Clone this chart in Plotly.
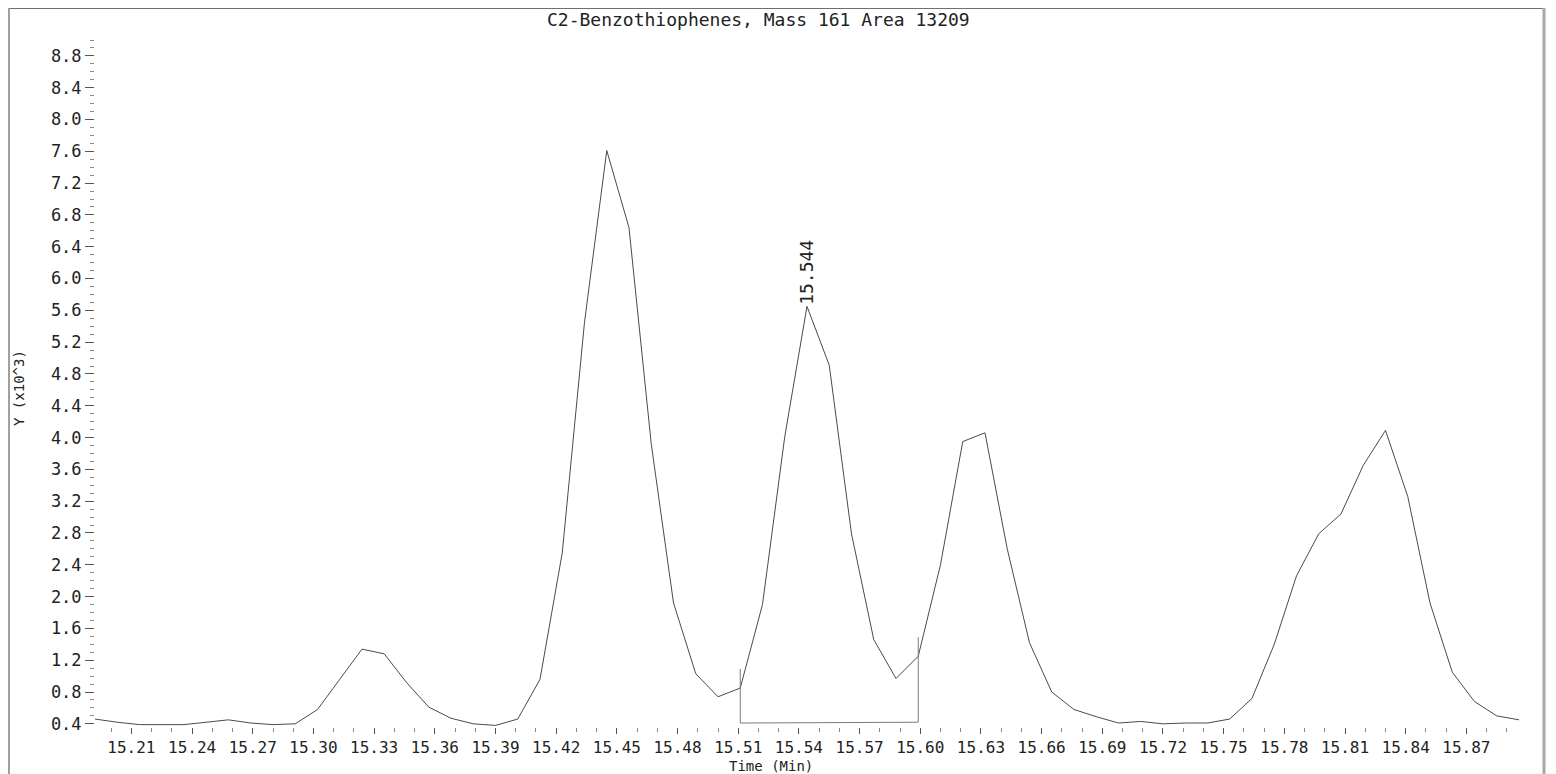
import plotly.graph_objects as go

# ---- data ----
time_min = [15.192, 15.203, 15.214, 15.225, 15.236, 15.247, 15.258, 15.269, 15.280, 15.291,
            15.302, 15.313, 15.324, 15.335, 15.346, 15.357, 15.368, 15.379, 15.390, 15.401,
            15.412, 15.423, 15.434, 15.445, 15.456, 15.467, 15.478, 15.489, 15.500, 15.511,
            15.522, 15.533, 15.544, 15.555, 15.566, 15.577, 15.588, 15.599, 15.610, 15.621,
            15.632, 15.643, 15.654, 15.665, 15.676, 15.687, 15.698, 15.709, 15.720, 15.731,
            15.742, 15.753, 15.764, 15.775, 15.786, 15.797, 15.808, 15.819, 15.830, 15.841,
            15.852, 15.863, 15.874, 15.885, 15.896]
intensity_k = [0.46, 0.42, 0.39, 0.39, 0.39, 0.42, 0.45, 0.41, 0.39, 0.40,
               0.58, 0.96, 1.34, 1.28, 0.92, 0.61, 0.47, 0.40, 0.38, 0.46,
               0.96, 2.55, 5.45, 7.61, 6.64, 3.92, 1.92, 1.03, 0.74, 0.85,
               1.90, 4.01, 5.65, 4.91, 2.79, 1.46, 0.97, 1.25, 2.40, 3.95,
               4.06, 2.60, 1.42, 0.80, 0.58, 0.49, 0.41, 0.43, 0.40, 0.41,
               0.41, 0.46, 0.72, 1.40, 2.26, 2.79, 3.04, 3.65, 4.09, 3.26,
               1.92, 1.05, 0.68, 0.50, 0.45]

# integration bracket (start/end time, baseline level, marker heights)
bracket_times = [15.511, 15.599]
bracket_base = [0.41, 0.42]
bracket_tops = [1.09, 1.49]

peak_label = "15.544"
peak_time = 15.544
peak_value = 5.65

title_text = "C2-Benzothiophenes, Mass 161 Area 13209"
x_title = "Time (Min)"
y_title = "Y (x10^3)"

# ---- layout geometry (page pixels; page body has an 8px margin) ----
OFF = 8
W, H = 1556 - OFF, 774 - OFF
L, R, T, B = 95 - OFF, 1520 - OFF, 40 - OFF, 727 - OFF
X_RANGE = [15.192, 15.8965]
Y_RANGE = [0.36, 9.0]

def px(xp):
    return (xp - OFF - L) / (R - L)

def py(yp):
    return (B - (yp - OFF)) / (B - T)

FONT = "DejaVu Sans Mono"
LINE_C = "#4a4a4a"

fig = go.Figure()

fig.add_trace(go.Scatter(x=time_min, y=intensity_k, mode="lines",
                         line=dict(color=LINE_C, width=1), hoverinfo="skip",
                         showlegend=False))

# bracket: left riser, baseline, right riser
bx = [bracket_times[0], bracket_times[0], bracket_times[1], bracket_times[1]]
by = [bracket_tops[0], bracket_base[0], bracket_base[1], bracket_tops[1]]
fig.add_trace(go.Scatter(x=bx, y=by, mode="lines",
                         line=dict(color="#7a7a7a", width=1), hoverinfo="skip",
                         showlegend=False))

fig.add_annotation(x=peak_time, y=peak_value, text=peak_label, textangle=-90,
                   showarrow=False, xanchor="center", yanchor="bottom", yshift=0,
                   font=dict(family=FONT, size=18, color="#222222"))

fig.add_annotation(xref="paper", yref="paper", x=px(758), y=py(19), text=title_text,
                   showarrow=False, xanchor="center", yanchor="middle",
                   font=dict(family=FONT, size=18, color="#222222"))

fig.add_annotation(xref="paper", yref="paper", x=px(771), y=py(766), text=x_title,
                   showarrow=False, xanchor="center", yanchor="middle",
                   font=dict(family=FONT, size=14, color="#222222"))

fig.add_annotation(xref="paper", yref="paper", x=px(19), y=py(388), text=y_title,
                   textangle=-90, showarrow=False, xanchor="center", yanchor="middle",
                   font=dict(family=FONT, size=14, color="#222222"))

fig.add_annotation(xref="paper", yref="paper", x=px(1555), y=py(372), text=y_title,
                   textangle=-90, showarrow=False, xanchor="center", yanchor="middle",
                   font=dict(family=FONT, size=14, color="#222222"))

# frame
fig.add_shape(type="line", xref="paper", yref="paper", x0=px(9), x1=px(1543),
              y0=py(8.5), y1=py(8.5), line=dict(color="#707070", width=1))
fig.add_shape(type="line", xref="paper", yref="paper", x0=px(9), x1=px(9),
              y0=py(8), y1=py(774), line=dict(color="#a0a0a0", width=2))
fig.add_shape(type="line", xref="paper", yref="paper", x0=px(1544), x1=px(1544),
              y0=py(8), y1=py(774), line=dict(color="#a8a8a8", width=3))

fig.update_xaxes(range=X_RANGE, showgrid=False, zeroline=False, showline=False,
                 tick0=15.21, dtick=0.03, tickformat=".2f", ticks="outside",
                 ticklen=6, tickcolor="#555555", tickwidth=1,
                 minor=dict(dtick=0.01, tick0=15.21, ticks="outside", ticklen=4,
                            tickcolor="#888888", showgrid=False),
                 tickfont=dict(family=FONT, size=16, color="#222222"))
fig.update_yaxes(range=Y_RANGE, showgrid=False, zeroline=False, showline=False,
                 tick0=0.4, dtick=0.4, tickformat=".1f", ticks="outside",
                 ticklen=9, tickcolor="#555555", tickwidth=1,
                 minor=dict(dtick=0.1, tick0=0.4, ticks="outside", ticklen=4,
                            tickcolor="#888888", showgrid=False),
                 tickfont=dict(family=FONT, size=17, color="#222222"))

fig.update_layout(width=W, height=H, margin=dict(l=L, r=W - R, t=T, b=H - B),
                  paper_bgcolor="white", plot_bgcolor="white", showlegend=False)

fig.write_html("out.html")
